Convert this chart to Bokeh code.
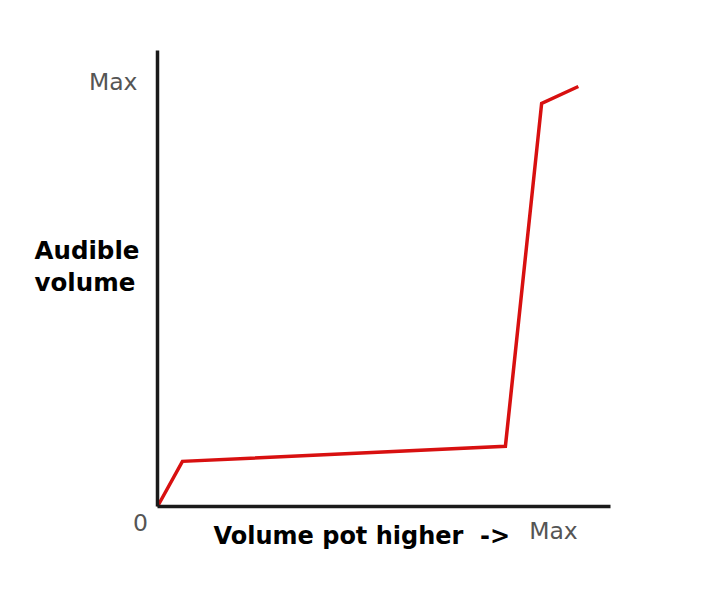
from bokeh.plotting import figure
from bokeh.models import Range1d, Label, FixedTicker
from bokeh.embed import file_html
from bokeh.resources import INLINE

# Data (pot position %, audible volume %)
pot_position = [0, 5.5, 76.8, 84.8, 92.9]
audible_volume = [0, 9.9, 13.2, 88.4, 92.1]

x_tick_labels = ["0", "Max"]
y_tick_label = "Max"
x_title = "Volume pot higher\u00a0 ->"
y_title = ["Audible", "volume"]

FONT = "DejaVu Sans"
W, H = 715, 591

p = figure(width=W, height=H, output_backend="svg", toolbar_location=None,
           x_range=Range1d(-34.66, 123.18), y_range=Range1d(-18.64, 110.96),
           min_border=0)
p.outline_line_color = None
p.grid.visible = False
p.background_fill_color = "white"
p.border_fill_color = "white"

for ax in (p.xaxis[0], p.yaxis[0]):
    ax.ticker = FixedTicker(ticks=[])
    ax.major_tick_line_color = None
    ax.minor_tick_line_color = None
    ax.major_label_text_font_size = "0px"
    ax.axis_line_width = 3.5
    ax.axis_line_color = "#1a1a1a"
    ax.fixed_location = 0
    ax.bounds = (0, 100)

p.line(pot_position, audible_volume, line_color="#d81010", line_width=3.5,
       line_join="miter")

gray = "#555555"
p.add_layout(Label(x=0, y=93, x_offset=-20, text=y_tick_label, text_align="right",
                   text_baseline="middle", text_font=FONT, text_font_size="23.5px",
                   text_color=gray))
p.add_layout(Label(x=-3.75, y=-3.5, text=x_tick_labels[0],
                   text_align="center", text_baseline="middle", text_font=FONT,
                   text_font_size="23.5px", text_color=gray))
p.add_layout(Label(x=87.4, y=-5.3, text=x_tick_labels[1],
                   text_align="center", text_baseline="middle", text_font=FONT,
                   text_font_size="23.5px", text_color=gray))

p.add_layout(Label(x=12.36, y=-6.36, text=x_title, text_align="left",
                   text_baseline="middle", text_font=FONT, text_font_size="24px",
                   text_font_style="bold", text_color="black"))
for t, yy in zip(y_title, [56.14, 49.12]):
    p.add_layout(Label(x=-27.15, y=yy, text=t, text_align="left",
                       text_baseline="middle", text_font=FONT, text_font_size="24.5px",
                       text_font_style="bold", text_color="black"))

open("out.html", "w").write(file_html(p, INLINE))
